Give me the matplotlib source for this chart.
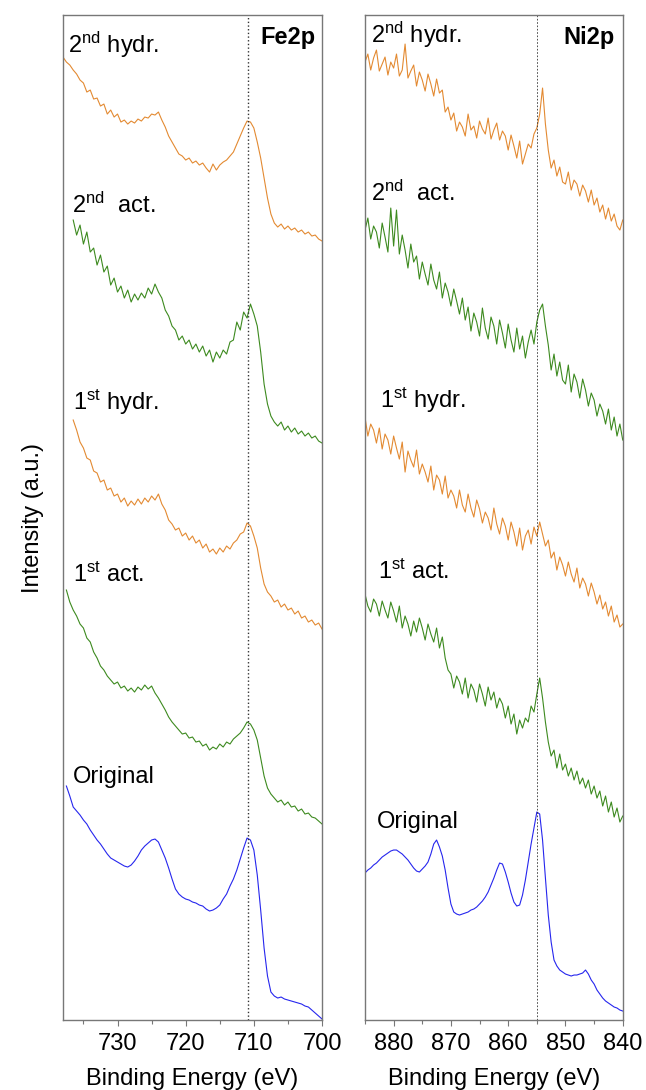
import numpy as np
import matplotlib.pyplot as plt
from matplotlib.ticker import MultipleLocator

plt.rcParams['font.family'] = ['Liberation Sans', 'DejaVu Sans']
plt.rcParams['mathtext.fontset'] = 'custom'
plt.rcParams['mathtext.rm'] = 'Liberation Sans'
plt.rcParams['mathtext.it'] = 'Liberation Sans:italic'
plt.rcParams['mathtext.bf'] = 'Liberation Sans:bold'

# ---- Fe2p spectra (stacked intensity, a.u.), 0.5 eV steps from start energy down to 700 eV
fe_end = 700.0
fe_hydr2_start = 738.0
fe_hydr2 = [963, 958, 955, 950, 946, 940, 937, 928, 930, 921,
            922, 914, 916, 906, 910, 903, 906, 898, 900, 896,
            899, 897, 901, 899, 903, 902, 906, 905, 908, 900,
            893, 884, 878, 872, 866, 864, 860, 862, 857, 859,
            855, 857, 852, 848, 856, 850, 855, 858, 860, 864,
            868, 876, 884, 892, 899, 898, 892, 878, 862, 842,
            822, 806, 797, 793, 796, 791, 794, 790, 792, 788,
            790, 786, 788, 784, 785, 781, 779]
fe_act2_start = 736.5
fe_act2 = [800, 785, 795, 776, 788, 768, 772, 755, 765, 748,
           754, 735, 742, 728, 734, 722, 730, 718, 726, 720,
           727, 722, 732, 726, 736, 728, 722, 710, 704, 694,
           690, 680, 684, 676, 680, 671, 676, 668, 674, 664,
           670, 658, 668, 662, 670, 666, 678, 680, 698, 690,
           708, 702, 716, 706, 694, 668, 636, 616, 604, 598,
           594, 598, 590, 594, 588, 592, 586, 589, 584, 587,
           582, 584, 579, 577]
fe_hydr1_start = 736.5
fe_hydr1 = [600, 590, 578, 572, 562, 560, 549, 547, 538, 540,
            530, 532, 524, 526, 518, 522, 514, 519, 515, 521,
            516, 522, 518, 524, 520, 526, 516, 510, 500, 496,
            490, 492, 484, 487, 480, 484, 477, 480, 472, 476,
            468, 471, 466, 472, 468, 474, 471, 477, 480, 486,
            488, 497, 494, 484, 472, 452, 436, 428, 424, 418,
            420, 413, 416, 410, 412, 406, 409, 402, 404, 398,
            400, 395, 397, 391]
fe_act1_start = 737.5
fe_act1 = [430, 418, 410, 404, 396, 392, 382, 378, 368, 362,
           354, 350, 344, 340, 336, 338, 332, 334, 329, 332,
           328, 333, 330, 335, 331, 334, 327, 322, 316, 310,
           303, 298, 294, 290, 286, 287, 282, 283, 278, 279,
           274, 276, 270, 273, 271, 276, 273, 278, 276, 281,
           284, 287, 292, 298, 296, 290, 280, 262, 244, 232,
           226, 222, 218, 220, 215, 218, 213, 214, 209, 211,
           206, 207, 203, 202, 199, 196]
fe_orig_start = 737.5
fe_orig = [234, 224, 213, 209, 205, 200, 196, 190, 185, 180,
           176, 171, 166, 162, 160, 158, 156, 154, 153, 155,
           159, 164, 170, 174, 177, 180, 181, 178, 170, 162,
           152, 141, 131, 126, 123, 121, 120, 118, 117, 115,
           114, 111, 109, 110, 112, 115, 121, 126, 134, 141,
           150, 161, 172, 182, 180, 170, 145, 110, 72, 44,
           28, 24, 22, 23, 21, 20, 19, 18, 17, 16,
           14, 13, 10, 7, 4, 1]

# ---- Ni2p spectra, 0.5 eV steps from 885 down to 840 eV
ni_start, ni_end = 885.0, 840.0
ni_hydr2 = [958, 966, 950, 962, 970, 949, 956, 963, 945, 958,
            952, 966, 944, 950, 976, 942, 949, 955, 934, 948,
            940, 929, 946, 936, 924, 941, 927, 930, 908, 913,
            900, 907, 889, 898, 893, 884, 906, 890, 894, 882,
            899, 891, 886, 902, 881, 890, 897, 880, 889, 884,
            870, 885, 874, 862, 879, 856, 866, 876, 872, 886,
            892, 906, 932, 896, 870, 852, 860, 844, 853, 838,
            836, 848, 830, 840, 836, 824, 835, 829, 818, 830,
            815, 822, 808, 815, 801, 812, 799, 806, 794, 790,
            800]
ni_act2 = [790, 802, 781, 794, 788, 772, 797, 783, 768, 812,
           774, 810, 766, 785, 770, 752, 776, 758, 764, 741,
           758, 746, 735, 756, 740, 731, 748, 722, 737, 728,
           714, 731, 719, 706, 722, 700, 713, 689, 707, 698,
           684, 712, 692, 681, 703, 694, 676, 700, 687, 672,
           696, 680, 668, 692, 671, 684, 662, 678, 690, 676,
           698, 710, 716, 694, 675, 650, 666, 644, 658, 640,
           636, 655, 628, 646, 638, 622, 641, 630, 614, 627,
           620, 604, 616, 609, 596, 611, 590, 603, 584, 596,
           580]
ni_hydr1 = [603, 584, 596, 590, 577, 592, 571, 586, 580, 566,
            584, 572, 561, 578, 548, 569, 560, 553, 570, 546,
            556, 548, 538, 554, 530, 545, 540, 526, 544, 522,
            530, 524, 512, 530, 515, 508, 526, 512, 503, 520,
            511, 497, 508, 502, 490, 512, 496, 486, 502, 494,
            480, 498, 488, 474, 492, 470, 484, 490, 476, 493,
            484, 498, 486, 474, 480, 462, 468, 450, 463, 455,
            444, 458, 446, 438, 452, 432, 442, 436, 424, 437,
            428, 416, 425, 411, 418, 404, 414, 398, 405, 393,
            396]
ni_act1 = [426, 414, 408, 421, 416, 404, 419, 410, 402, 418,
           409, 398, 414, 392, 404, 396, 384, 399, 388, 402,
           392, 380, 396, 386, 378, 392, 372, 383, 362, 350,
           346, 332, 344, 338, 326, 342, 322, 336, 330, 318,
           336, 326, 314, 333, 320, 328, 312, 322, 316, 302,
           314, 296, 306, 286, 300, 292, 302, 298, 314, 308,
           326, 342, 322, 298, 278, 264, 270, 252, 266, 250,
           256, 244, 252, 240, 249, 236, 242, 232, 240, 226,
           234, 222, 229, 214, 224, 208, 218, 203, 212, 198,
           204]
ni_orig = [147, 150, 152, 155, 157, 160, 163, 165, 167, 169,
           170, 170, 168, 166, 163, 160, 156, 152, 149, 148,
           151, 154, 158, 166, 176, 180, 173, 164, 150, 132,
           116, 108, 106, 105, 106, 107, 108, 110, 111, 113,
           116, 119, 123, 128, 135, 142, 150, 157, 156, 148,
           138, 127, 118, 114, 115, 125, 140, 158, 176, 192,
           208, 206, 180, 142, 105, 78, 60, 54, 50, 48,
           46, 45, 44, 45, 45, 46, 47, 50, 46, 40,
           36, 30, 26, 22, 19, 17, 15, 13, 12, 10,
           9]

fe_line = 710.8
ni_line = 855.0

c_orange = '#E38A32'
c_green = '#3D8A1F'
c_blue = '#2626EE'

fig = plt.figure(figsize=(6.46, 10.90), dpi=100)
ax1 = fig.add_axes([0.0975, 0.0642, 0.401, 0.922])
ax2 = fig.add_axes([0.565, 0.0642, 0.399, 0.922])

fe_series = [(fe_hydr2_start, fe_hydr2, c_orange), (fe_act2_start, fe_act2, c_green),
             (fe_hydr1_start, fe_hydr1, c_orange), (fe_act1_start, fe_act1, c_green),
             (fe_orig_start, fe_orig, c_blue)]
for start, vals, col in fe_series:
    e = np.linspace(start, fe_end, len(vals))
    ax1.plot(e, vals, color=col, lw=0.8)

for vals, col in [(ni_hydr2, c_orange), (ni_act2, c_green), (ni_hydr1, c_orange),
                  (ni_act1, c_green), (ni_orig, c_blue)]:
    e = np.linspace(ni_start, ni_end, len(vals))
    ax2.plot(e, vals, color=col, lw=0.8)

ax1.axvline(fe_line, color='#333333', ls=':', lw=1.0)
ax2.axvline(ni_line, color='#333333', ls=(0, (2, 2)), lw=0.6)

ax1.set_xlim(738, 700)
ax2.set_xlim(885, 840)
fs = 17
for ax in (ax1, ax2):
    ax.set_ylim(0, 1005)
    ax.set_yticks([])
    ax.xaxis.set_major_locator(MultipleLocator(10))
    ax.xaxis.set_minor_locator(MultipleLocator(5))
    ax.tick_params(axis='x', which='major', direction='out', length=4, width=0.8,
                   color='#777777', labelsize=fs, pad=5)
    ax.tick_params(axis='x', which='minor', direction='out', length=3, width=0.8,
                   color='#777777')
    for s in ax.spines.values():
        s.set_color('#777777')
        s.set_linewidth(1.0)
    ax.set_xlabel('Binding Energy (eV)', fontsize=fs, labelpad=10)

ax1.set_ylabel('Intensity (a.u.)', fontsize=fs, labelpad=14)

lbl = dict(fontsize=fs, va='center', ha='left')
ax1.text(0.019, 0.970, r'2$^{\rm nd}$ hydr.', transform=ax1.transAxes, **lbl)
ax1.text(0.035, 0.811, r'2$^{\rm nd}$  act.', transform=ax1.transAxes, **lbl)
ax1.text(0.039, 0.615, r'1$^{\rm st}$ hydr.', transform=ax1.transAxes, **lbl)
ax1.text(0.039, 0.443, r'1$^{\rm st}$ act.', transform=ax1.transAxes, **lbl)
ax1.text(0.039, 0.242, 'Original', transform=ax1.transAxes, **lbl)
ax1.text(0.973, 0.978, 'Fe2p', transform=ax1.transAxes, fontsize=fs,
         fontweight='bold', ha='right', va='center')

ax2.text(0.023, 0.980, r'2$^{\rm nd}$ hydr.', transform=ax2.transAxes, **lbl)
ax2.text(0.023, 0.823, r'2$^{\rm nd}$  act.', transform=ax2.transAxes, **lbl)
ax2.text(0.058, 0.617, r'1$^{\rm st}$ hydr.', transform=ax2.transAxes, **lbl)
ax2.text(0.050, 0.446, r'1$^{\rm st}$ act.', transform=ax2.transAxes, **lbl)
ax2.text(0.047, 0.197, 'Original', transform=ax2.transAxes, **lbl)
ax2.text(0.969, 0.978, 'Ni2p', transform=ax2.transAxes, fontsize=fs,
         fontweight='bold', ha='right', va='center')

fig.savefig('out.png', dpi=100)
